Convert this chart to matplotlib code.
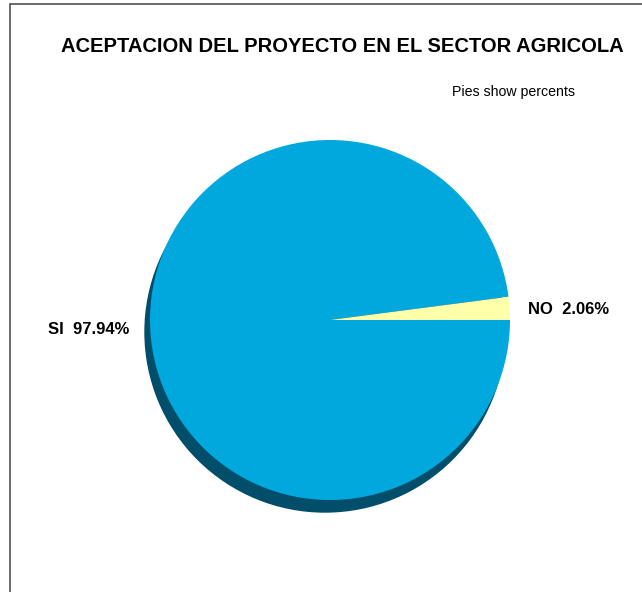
import matplotlib.pyplot as plt
from matplotlib.patches import Circle, Rectangle

# datos de la encuesta
categorias = ["SI", "NO"]
porcentajes = [97.94, 2.06]
colores = ["#00A8DE", "#FFFFAA"]

titulo = "ACEPTACION DEL PROYECTO EN EL SECTOR AGRICOLA"
nota = "Pies show percents"

plt.rcParams["font.family"] = ["Liberation Sans", "DejaVu Sans"]

W, H = 642, 592
fig = plt.figure(figsize=(W / 100, H / 100), dpi=100)
ax = fig.add_axes([0, 0, 1, 1])
ax.set_xlim(0, W)
ax.set_ylim(0, H)
ax.set_aspect("equal")
ax.axis("off")

# marco
ax.add_patch(Rectangle((9.5, -10), W + 20, H - 3.5 + 10, fill=False,
                       edgecolor="#505050", lw=1.2))

centro = (330, H - 320)
radio = 180

# sombra
ax.add_patch(Circle((centro[0] - 5, centro[1] - 12), radio,
                    color="#004E6A", zorder=1))

# torta: NO empieza en 0 grados
inicio = 360 * porcentajes[1] / 100
wedges, _ = ax.pie(porcentajes, colors=colores, startangle=inicio,
                   counterclock=True, center=centro, radius=radio,
                   wedgeprops=dict(linewidth=0))
for w in wedges:
    w.set_zorder(2)
ax.set_xlim(0, W)
ax.set_ylim(0, H)

ax.text(48, H - 330, f"{categorias[0]}  {porcentajes[0]:.2f}%", fontsize=12,
        fontweight="bold", ha="left", va="center")
ax.text(528, H - 310, f"{categorias[1]}  {porcentajes[1]:.2f}%", fontsize=12,
        fontweight="bold", ha="left", va="center")

ax.text(342, H - 47, titulo, fontsize=14.5, fontweight="bold",
        ha="center", va="center")
ax.text(513, H - 92, nota, fontsize=10.2, ha="center", va="center")

fig.savefig("out.png", dpi=100)
